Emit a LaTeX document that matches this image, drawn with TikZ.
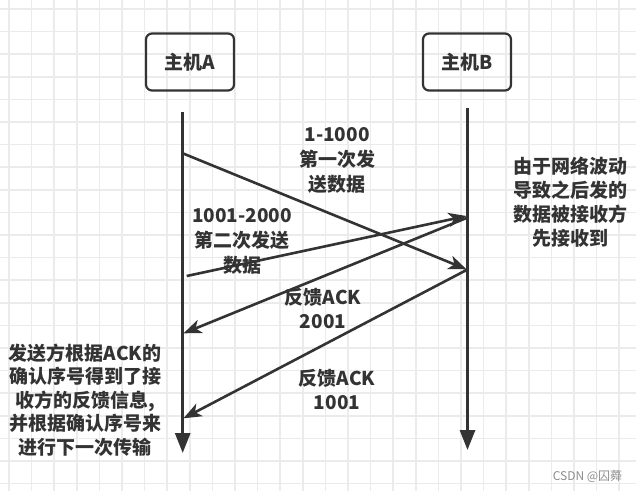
\documentclass[tikz,border=0pt]{standalone}
\usepackage{fontspec}
\newfontfamily\cjk{Noto Sans CJK SC}
\usetikzlibrary{arrows.meta,positioning}
\definecolor{linea}{HTML}{333333}
\definecolor{griglia}{HTML}{EBEBEB}

\begin{document}
\begin{tikzpicture}[x=1pt, y=-1pt,
  every node/.style={font=\cjk\bfseries\fontsize{19}{24}\selectfont, text=linea, align=center},
  host/.style={draw=linea, line width=2.2pt, rounded corners=6pt, minimum width=88pt, minimum height=57pt},
  vita/.style={draw=linea, line width=3pt, -{Triangle[length=20pt,width=15pt]}},
  msg/.style={draw=linea, line width=2.6pt, -{Stealth[length=18pt,width=14pt,inset=5pt]}}]
\useasboundingbox (0,0) rectangle (636,491);
% griglia di sfondo
\fill[white] (0,0) rectangle (636,491);
\foreach \i in {0,...,27}{
  \draw[griglia, line width=1.5pt] (9+22.6*\i,0) -- (9+22.6*\i,491);
}
\foreach \i in {0,...,21}{
  \draw[griglia, line width=1.5pt] (0,9+22.6*\i) -- (636,9+22.6*\i);
}
% host
\node[host] (hostA) at (190,62) {主机A};
\node[host] (hostB) at (467,62) {主机B};
% linee della vita
\coordinate (topA) at (182.7,112);
\coordinate (botA) at (182.7,453);
\coordinate (topB) at (467.5,108);
\coordinate (botB) at (467.5,450);
\draw[vita] (topA) -- (botA);
\draw[vita] (topB) -- (botB);
% messaggi
\coordinate (m1s) at (182.7,153.3); \coordinate (m1e) at (466.5,269.3);
\coordinate (m2s) at (186.7,276);   \coordinate (m2e) at (466.5,216);
\coordinate (m3s) at (466.5,218);   \coordinate (m3e) at (183.5,333.3);
\coordinate (m4s) at (466.5,270);   \coordinate (m4e) at (183.5,418.3);
\draw[msg] (m1s) -- (m1e);
\draw[msg] (m2s) -- (m2e);
\draw[msg] (m3s) -- (m3e);
\draw[msg] (m4s) -- (m4e);
% etichette
\node[font=\cjk\bfseries\fontsize{19}{25}\selectfont] (seg1) at (337,160) {1-1000\\第一次发\\送数据};
\node[font=\cjk\bfseries\fontsize{19}{25}\selectfont] (seg2) at (242,241) {1001-2000\\第二次发送\\数据};
\node (ack2) at (323,309) {反馈ACK\\2001};
\node (ack1) at (337,390) {反馈ACK\\1001};
% note
\node[font=\cjk\bfseries\fontsize{19}{23.4}\selectfont] (notaA) at (85,400)
  {发送方根据ACK的\\确认序号得到了接\\收方的反馈信息,\\并根据确认序号来\\进行下一次传输};
\node (notaB) at (570,202.5) {由于网络波动\\导致之后发的\\数据被接收方\\先接收到};
% filigrana
\node[font=\cjk\fontsize{12}{14}\selectfont, text=black!45] (wm) at (587.5,476) {CSDN @囚蕣};
\end{tikzpicture}
\end{document}
